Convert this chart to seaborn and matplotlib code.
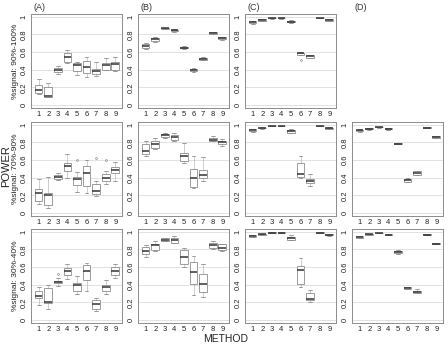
import numpy as np
import pandas as pd
import matplotlib
matplotlib.use("Agg")
import matplotlib.pyplot as plt
import seaborn as sns

methods = [1, 2, 3, 4, 5, 6, 7, 8, 9]
row_labels = ["%signal: 90%-100%", "%signal: 70%-90%", "%signal: 30%-40%"]
col_labels = ["(A)", "(B)", "(C)", "(D)"]
yticks = [0, 0.2, 0.4, 0.6, 0.8, 1]
ytick_labels = ["0", "0.2", "0.4", "0.6", "0.8", "1"]

# one row per method: [low whisker, q1, median, q3, high whisker]
a_90 = [[0.12, 0.13, 0.17, 0.22, 0.29], [0.09, 0.09, 0.10, 0.20, 0.25],
        [0.35, 0.37, 0.40, 0.42, 0.44], [0.47, 0.49, 0.54, 0.585, 0.625],
        [0.34, 0.38, 0.45, 0.47, 0.49], [0.32, 0.36, 0.43, 0.50, 0.54],
        [0.33, 0.35, 0.38, 0.41, 0.49], [0.40, 0.40, 0.45, 0.48, 0.53],
        [0.38, 0.39, 0.46, 0.49, 0.54]]
b_90 = [[0.63, 0.645, 0.665, 0.69, 0.70], [0.71, 0.72, 0.745, 0.76, 0.77],
        [0.86, 0.865, 0.868, 0.872, 0.875], [0.83, 0.837, 0.845, 0.85, 0.855],
        [0.635, 0.64, 0.65, 0.66, 0.665], [0.37, 0.38, 0.39, 0.41, 0.415],
        [0.505, 0.51, 0.52, 0.535, 0.54], [0.80, 0.805, 0.815, 0.825, 0.83],
        [0.74, 0.745, 0.755, 0.765, 0.77]]
c_90 = [[0.92, 0.928, 0.94, 0.948, 0.955], [0.95, 0.955, 0.962, 0.968, 0.972],
        [0.978, 0.98, 0.982, 0.984, 0.986], [0.978, 0.98, 0.982, 0.984, 0.986],
        [0.93, 0.935, 0.945, 0.952, 0.958], [0.56, 0.565, 0.585, 0.59, 0.595],
        [0.53, 0.535, 0.55, 0.56, 0.565], [0.982, 0.984, 0.986, 0.988, 0.99],
        [0.95, 0.955, 0.963, 0.968, 0.972]]
a_70 = [[0.10, 0.135, 0.23, 0.27, 0.38], [0.055, 0.085, 0.20, 0.22, 0.41],
        [0.37, 0.385, 0.41, 0.43, 0.45], [0.40, 0.48, 0.53, 0.57, 0.67],
        [0.24, 0.32, 0.38, 0.41, 0.46], [0.23, 0.30, 0.45, 0.535, 0.60],
        [0.19, 0.215, 0.25, 0.33, 0.36], [0.33, 0.36, 0.40, 0.445, 0.47],
        [0.36, 0.45, 0.49, 0.525, 0.58]]
b_70 = [[0.64, 0.67, 0.70, 0.785, 0.82], [0.72, 0.73, 0.78, 0.81, 0.85],
        [0.85, 0.86, 0.88, 0.895, 0.91], [0.82, 0.83, 0.86, 0.885, 0.91],
        [0.56, 0.59, 0.64, 0.675, 0.79], [0.28, 0.29, 0.39, 0.50, 0.64],
        [0.36, 0.39, 0.43, 0.49, 0.63], [0.81, 0.815, 0.83, 0.85, 0.87],
        [0.76, 0.78, 0.80, 0.81, 0.84]]
c_70 = [[0.92, 0.93, 0.945, 0.95, 0.955], [0.955, 0.958, 0.962, 0.966, 0.97],
        [0.982, 0.984, 0.986, 0.988, 0.99], [0.98, 0.982, 0.985, 0.987, 0.99],
        [0.90, 0.91, 0.925, 0.935, 0.95], [0.40, 0.41, 0.44, 0.57, 0.64],
        [0.30, 0.34, 0.36, 0.385, 0.44], [0.982, 0.984, 0.986, 0.988, 0.99],
        [0.95, 0.955, 0.96, 0.965, 0.968]]
d_70 = [[0.92, 0.925, 0.935, 0.945, 0.95], [0.945, 0.95, 0.955, 0.96, 0.965],
        [0.965, 0.968, 0.97, 0.973, 0.976], [0.945, 0.95, 0.955, 0.96, 0.963],
        [0.78, 0.782, 0.785, 0.788, 0.79], [0.35, 0.355, 0.37, 0.385, 0.39],
        [0.43, 0.43, 0.45, 0.47, 0.47], [0.962, 0.964, 0.966, 0.968, 0.97],
        [0.845, 0.85, 0.86, 0.87, 0.875]]
a_30 = [[0.17, 0.245, 0.27, 0.33, 0.37], [0.12, 0.19, 0.20, 0.36, 0.39],
        [0.38, 0.415, 0.43, 0.445, 0.47], [0.46, 0.51, 0.55, 0.585, 0.63],
        [0.29, 0.33, 0.39, 0.42, 0.50], [0.33, 0.45, 0.55, 0.625, 0.65],
        [0.10, 0.125, 0.18, 0.23, 0.25], [0.29, 0.325, 0.37, 0.395, 0.45],
        [0.47, 0.51, 0.55, 0.595, 0.63]]
b_30 = [[0.71, 0.745, 0.78, 0.83, 0.85], [0.78, 0.79, 0.85, 0.86, 0.89],
        [0.89, 0.895, 0.91, 0.925, 0.93], [0.87, 0.875, 0.90, 0.925, 0.95],
        [0.60, 0.63, 0.71, 0.79, 0.81], [0.28, 0.41, 0.54, 0.66, 0.72],
        [0.26, 0.32, 0.41, 0.525, 0.63], [0.80, 0.82, 0.85, 0.875, 0.89],
        [0.78, 0.79, 0.82, 0.86, 0.865]]
c_30 = [[0.94, 0.945, 0.955, 0.96, 0.965], [0.962, 0.965, 0.97, 0.974, 0.978],
        [0.985, 0.987, 0.99, 0.992, 0.994], [0.985, 0.987, 0.99, 0.992, 0.994],
        [0.90, 0.91, 0.925, 0.94, 0.96], [0.37, 0.41, 0.56, 0.61, 0.70],
        [0.20, 0.225, 0.24, 0.305, 0.34], [0.985, 0.987, 0.99, 0.992, 0.994],
        [0.955, 0.96, 0.965, 0.97, 0.975]]
d_30 = [[0.925, 0.93, 0.94, 0.95, 0.955], [0.965, 0.967, 0.97, 0.973, 0.975],
        [0.98, 0.982, 0.985, 0.987, 0.99], [0.96, 0.962, 0.965, 0.968, 0.97],
        [0.75, 0.76, 0.77, 0.78, 0.79], [0.345, 0.35, 0.36, 0.37, 0.375],
        [0.31, 0.31, 0.32, 0.33, 0.35], [0.96, 0.962, 0.965, 0.968, 0.97],
        [0.86, 0.862, 0.865, 0.868, 0.87]]

# outliers per panel: {method: value}
c_90_out = {6: 0.51}
a_70_out = {5: 0.60, 7: 0.62, 8: 0.60}
a_30_out = {3: 0.52}

panels = [[a_90, b_90, c_90, None],
          [a_70, b_70, c_70, d_70],
          [a_30, b_30, c_30, d_30]]
outliers = {(0, 2): c_90_out, (1, 0): a_70_out, (2, 0): a_30_out}


def to_long(stats, out):
    # nine values per method, so numpy quartiles land exactly on q1 / median / q3
    recs = []
    for m, (lo, q1, med, q3, hi) in zip(methods, stats):
        vals = [lo, lo, q1, q1, med, q3, q3, hi, hi]
        if m in out:
            if out[m] > q3:
                vals[-1] = out[m]
            else:
                vals[0] = out[m]
        recs += [(m, v) for v in vals]
    return pd.DataFrame(recs, columns=["method", "power"])


sns.set_style("white")
plt.rcParams["font.family"] = ["Liberation Sans", "DejaVu Sans"]

W, H = 448, 344
fig = plt.figure(figsize=(W / 100, H / 100), dpi=100)

lefts = [31, 138, 245, 352]
tops = [14, 122, 229]
aw, ah = 91, 94
grey = "#8c8c8c"

for r in range(3):
    for c in range(4):
        if r == 0:
            fig.text((lefts[c] + 2) / W, 1 - 7 / H, col_labels[c], fontsize=6.5,
                     ha="left", va="center", color="#333333")
        stats = panels[r][c]
        if stats is None:
            continue
        ax = fig.add_axes([lefts[c] / W, 1 - (tops[r] + ah) / H, aw / W, ah / H])
        df = to_long(stats, outliers.get((r, c), {}))
        sns.boxplot(data=df, x="method", y="power", order=methods, ax=ax,
                    color="white", linecolor=grey, linewidth=0.6, width=0.8,
                    whis=1.5, fliersize=1.3,
                    whiskerprops=dict(linestyle=(0, (1.2, 1.2))),
                    medianprops=dict(color="#333333", linewidth=1.1),
                    flierprops=dict(marker="o", markerfacecolor="none",
                                    markeredgecolor=grey, markeredgewidth=0.5))
        ax.set_xlim(-0.8, 8.7)
        ax.set_ylim(-0.035, 1.03)
        ax.set_yticks(yticks)
        ax.set_yticklabels(ytick_labels, rotation=90, va="center")
        ax.set_xticks(range(len(methods)))
        ax.set_xticklabels([str(m) for m in methods])
        ax.yaxis.grid(True, color="#dcdcdc", linewidth=0.6)
        ax.set_axisbelow(True)
        ax.tick_params(axis="both", labelsize=5.5, colors="#222222", length=1.5,
                       width=0.5, pad=1)
        ax.tick_params(axis="both", color=grey)
        for s in ax.spines.values():
            s.set_color(grey)
            s.set_linewidth(0.7)
        ax.set_xlabel("")
        ax.set_ylabel("")

for r in range(3):
    fig.text(16 / W, 1 - (tops[r] + ah / 2) / H, row_labels[r], rotation=90,
             fontsize=6, ha="center", va="center", color="#222222")

fig.text(6 / W, 1 - 166 / H, "POWER", rotation=90, fontsize=8,
         ha="center", va="center", color="#222222")
fig.text(226 / W, 0.5 / H, "METHOD", fontsize=7.5, ha="center", va="bottom",
         color="#222222")

fig.savefig("out.png", dpi=100)
